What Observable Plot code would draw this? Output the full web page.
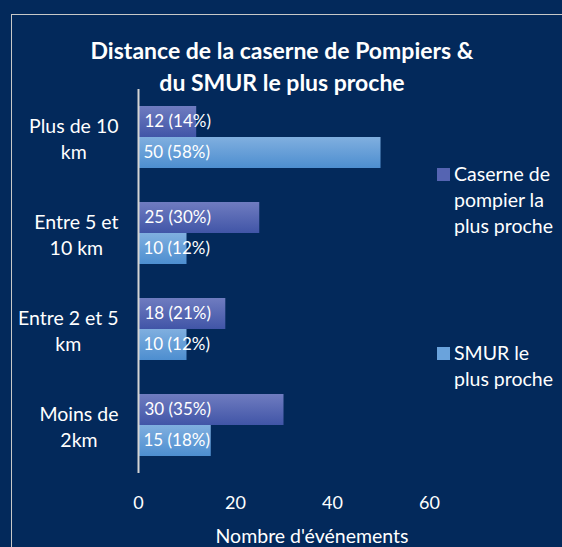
<!DOCTYPE html>
<html>
<head>
<meta charset="utf-8">
<script src="https://cdn.jsdelivr.net/npm/d3@7"></script>
<script src="https://cdn.jsdelivr.net/npm/@observablehq/plot@0.6"></script>
<style>
html, body { margin: 0; padding: 0; background: #03295b; overflow: hidden; }
#wrap { position: relative; width: 562px; height: 547px; font-family: Lato, "Open Sans", sans-serif; color: #fff; }
#border { position: absolute; left: 11px; top: 14px; width: 620px; height: 620px; border: 1.5px solid #c8c8c8; box-sizing: border-box; }
#title { position: absolute; left: 0; top: 34px; width: 564px; text-align: center; font-weight: bold; font-size: 23px; line-height: 32px; }
#chart { position: absolute; left: 0; top: 0; }
.leg { position: absolute; }
.sw { position: absolute; width: 13px; height: 13px; }
.lt { position: absolute; font-size: 19.5px; line-height: 26px; white-space: pre; }
</style>
</head>
<body>
<div id="wrap">
  <div id="border"></div>
  <div id="chart"></div>
  <div id="title"></div>
  <div id="legend"></div>
</div>
<script>
// ---- data ----
const categories = ["Plus de 10\nkm", "Entre 5 et\n10 km", "Entre 2 et 5\nkm", "Moins de\n2km"];
const seriesNames = ["Caserne de\npompier la\nplus proche", "SMUR le\nplus proche"];
const caserneValues = [12, 25, 18, 30];
const casernePct = [14, 30, 21, 35];
const smurValues = [50, 10, 10, 15];
const smurPct = [58, 12, 12, 18];
const xTicks = [0, 20, 40, 60];
const titleLines = ["Distance de la caserne de Pompiers &", "du SMUR le plus proche"];
const xLabel = "Nombre d'événements";

const caserneData = categories.map((c, i) => ({category: c, value: caserneValues[i], label: `${caserneValues[i]} (${casernePct[i]}%)`}));
const smurData = categories.map((c, i) => ({category: c, value: smurValues[i], label: `${smurValues[i]} (${smurPct[i]}%)`}));

// measure category label widths to align blocks right
const cv = document.createElement("canvas").getContext("2d");
cv.font = "19.5px Lato";
const catWidth = c => Math.max(...c.split("\n").map(s => cv.measureText(s).width));

const shadow = "filter: drop-shadow(3px 3px 3px rgba(0,0,0,0.45));";

const catMarks = categories.map(c => Plot.text([c], {
  y: d => d, text: d => d, frameAnchor: "left", textAnchor: "middle",
  dx: -20 - catWidth(c) / 2, fill: "white", fontSize: 19.5, lineHeight: 1.33
}));

const chart = Plot.plot({
  width: 562,
  height: 547,
  marginLeft: 138,
  marginRight: 133,
  marginTop: 89,
  marginBottom: 74,
  style: {background: "transparent", fontFamily: "Lato, 'Open Sans', sans-serif", color: "white", overflow: "visible"},
  x: {domain: [0, 60], ticks: xTicks},
  y: {domain: categories, paddingInner: 0.354, paddingOuter: 0.177, axis: null},
  marks: [
    Plot.barX(caserneData, {y: "category", x: "value", insetBottom: 31, fill: "url(#gradC)", style: shadow}),
    Plot.barX(smurData, {y: "category", x: "value", insetTop: 31, fill: "url(#gradS)", style: shadow}),
    Plot.ruleX([0], {stroke: "#d4d4d4", strokeWidth: 2}),
    Plot.text(caserneData, {y: "category", x: 0, text: "label", dx: 6, dy: -15.5, textAnchor: "start", fill: "white", fontSize: 17}),
    Plot.text(smurData, {y: "category", x: 0, text: "label", dx: 5, dy: 15.5, textAnchor: "start", fill: "white", fontSize: 17}),
    ...catMarks,
    Plot.axisX({ticks: xTicks, tickSize: 0, tickPadding: 23, fontSize: 18, label: null, color: "white"}),
    Plot.text([xLabel], {frameAnchor: "bottom", dy: 69, dx: 28, fill: "white", fontSize: 19.5})
  ]
});
const svg = chart.tagName.toLowerCase() === "svg" ? chart : chart.querySelector("svg");
const ns = "http://www.w3.org/2000/svg";
const defs = document.createElementNS(ns, "defs");
[["gradC", "#6f7cc0", "#4155a7"], ["gradS", "#80afdf", "#4d8ed0"]].forEach(([id, c1, c2]) => {
  const g = document.createElementNS(ns, "linearGradient");
  g.setAttribute("id", id); g.setAttribute("x1", 0); g.setAttribute("y1", 0); g.setAttribute("x2", 0); g.setAttribute("y2", 1);
  [[0, c1], [1, c2]].forEach(([o, c]) => {
    const s = document.createElementNS(ns, "stop");
    s.setAttribute("offset", o); s.setAttribute("stop-color", c);
    g.appendChild(s);
  });
  defs.appendChild(g);
});
svg.insertBefore(defs, svg.firstChild);
document.getElementById("chart").appendChild(chart);

document.getElementById("title").innerHTML = titleLines.join("<br>");

// legend
const legendColors = ["#5564b2", "#6aa3dc"];
const legendPos = [{sq: 168, tx: 161}, {sq: 347, tx: 340}];
const leg = document.getElementById("legend");
seriesNames.forEach((n, i) => {
  const sq = document.createElement("div");
  sq.className = "sw"; sq.style.left = "437px"; sq.style.top = legendPos[i].sq + "px"; sq.style.background = legendColors[i];
  const t = document.createElement("div");
  t.className = "lt"; t.style.left = "454px"; t.style.top = legendPos[i].tx + "px"; t.textContent = n;
  leg.appendChild(sq); leg.appendChild(t);
});
</script>
</body>
</html>
